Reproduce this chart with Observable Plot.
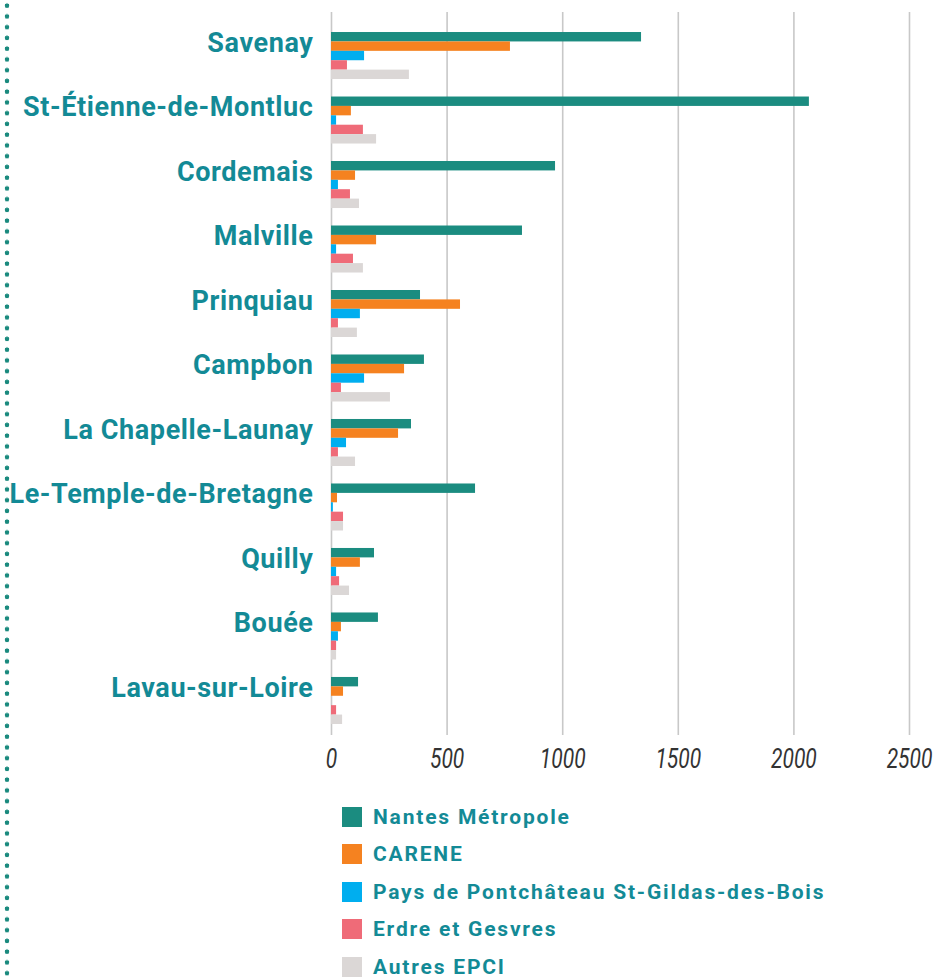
<!DOCTYPE html>
<html><head><meta charset="utf-8">
<script src="https://cdn.jsdelivr.net/npm/d3@7"></script>
<script src="https://cdn.jsdelivr.net/npm/@observablehq/plot@0.6"></script>
<style>
body{margin:0;background:#fff;width:937px;height:979px;overflow:hidden;position:relative;font-family:Roboto,sans-serif}
#dots{position:absolute;left:2px;top:0;width:10px;height:979px;background-image:radial-gradient(circle at 5px 5.7px,#1a8a7e 2px,rgba(255,255,255,0) 2.6px);background-size:10px 10.75px;background-repeat:repeat-y}
#chart{position:absolute;left:0;top:0}
#chart g[aria-label="y-axis tick label"]{letter-spacing:0.6px}
#legend{position:absolute;left:342px;top:798px}
.item{display:flex;align-items:center;height:37.5px}
.sw{width:20px;height:20px;margin-right:11px;flex:none}
.lab{font-family:Roboto,sans-serif;font-weight:700;font-size:21px;letter-spacing:1.8px;color:#138a96;white-space:nowrap}
</style></head>
<body>
<div id="dots"></div>
<div id="chart"></div>
<div id="legend"></div>
<script>
const communes = ["Savenay","St-Étienne-de-Montluc","Cordemais","Malville","Prinquiau","Campbon","La Chapelle-Launay","Le-Temple-de-Bretagne","Quilly","Bouée","Lavau-sur-Loire"];
const seriesNames = ["Nantes Métropole","CARENE","Pays de Pontchâteau St-Gildas-des-Bois","Erdre et Gesvres","Autres EPCI"];
const nantesMetropole = [1341, 2067, 969, 826, 385, 402, 346, 623, 186, 203, 117];
const carene          = [774, 86, 104, 195, 558, 316, 290, 26, 125, 43, 52];
const paysPontchateau = [143, 22, 30, 22, 125, 143, 65, 8, 22, 30, 0];
const erdreGesvres    = [69, 138, 82, 95, 30, 43, 30, 52, 35, 22, 22];
const autresEpci      = [337, 195, 121, 138, 112, 255, 104, 52, 78, 22, 48];
const xTicks = [0, 500, 1000, 1500, 2000, 2500];
const colors = ["#1b8c80","#f58220","#00aeef","#ef6b78","#dbd7d6"];

const seriesValues = [nantesMetropole, carene, paysPontchateau, erdreGesvres, autresEpci];
const bw = 47, bh = bw / 5;

const barMarks = seriesValues.map((vals, k) =>
  Plot.barX(communes.map((c, i) => ({commune: c, value: vals[i]})), {
    x: "value", y: "commune", fill: colors[k],
    insetTop: k * bh, insetBottom: (4 - k) * bh
  })
);

const chart = Plot.plot({
  width: 937, height: 775,
  marginLeft: 331, marginRight: 28, marginTop: 12, marginBottom: 40,
  style: {fontFamily: "Roboto, sans-serif", overflow: "visible", background: "transparent"},
  x: {domain: [0, 2500], label: null},
  y: {domain: communes, range: [23.25, 732.75], paddingInner: 0.271, paddingOuter: 0.136, round: false, label: null},
  marks: [
    Plot.gridX(xTicks, {stroke: "#c8c8c8", strokeOpacity: 1, strokeWidth: 1.6}),
    ...barMarks,
    Plot.axisX(xTicks, {tickSize: 0, tickPadding: 32, fontSize: 28, fontStyle: "italic",
      tickFormat: d => String(d), color: "#333", label: null}),
    Plot.axisY({tickSize: 0, tickPadding: 18, fontSize: 27, fontWeight: "bold", color: "#138a96", dy: -13, label: null})
  ]
});
document.getElementById("chart").appendChild(chart);

// condense the italic tick numerals horizontally
d3.select(chart).selectAll('g[aria-label="x-axis tick label"] text').each(function() {
  const x = +this.getAttribute("x") || 0;
  const y = +this.getAttribute("y") || 0;
  const t = this.getAttribute("transform") || "";
  this.setAttribute("x", 0);
  this.setAttribute("y", 0);
  this.setAttribute("transform", `${t} translate(${x},${y}) scale(0.75,1)`);
});

const legend = document.getElementById("legend");
seriesNames.forEach((name, k) => {
  const item = document.createElement("div");
  item.className = "item";
  const sw = document.createElement("div");
  sw.className = "sw"; sw.style.background = colors[k];
  const lab = document.createElement("span");
  lab.className = "lab"; lab.textContent = name;
  item.appendChild(sw); item.appendChild(lab);
  legend.appendChild(item);
});
</script>
</body></html>
